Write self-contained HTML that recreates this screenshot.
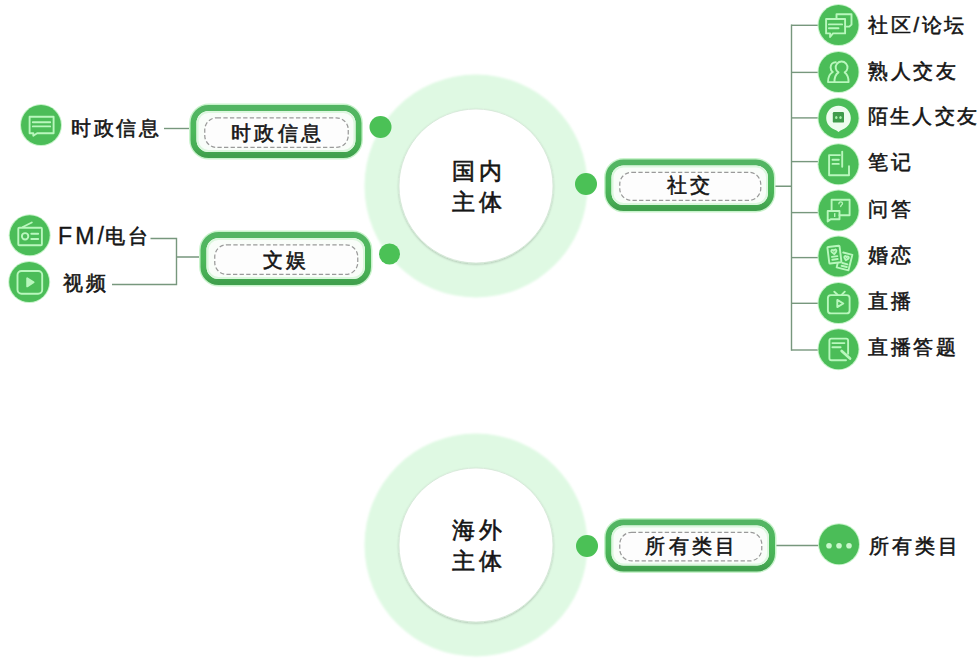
<!DOCTYPE html>
<html><head><meta charset="utf-8">
<style>
html,body{margin:0;padding:0;background:#fff;}
body{width:979px;height:667px;position:relative;overflow:hidden;font-family:"Liberation Sans",sans-serif;color:#151515;}
svg{position:absolute;left:0;top:0;}
.t{position:absolute;white-space:nowrap;font-size:20px;line-height:24px;font-weight:normal;-webkit-text-stroke:0.55px #151515;letter-spacing:2.7px;}
.c{position:absolute;white-space:nowrap;text-align:center;font-weight:normal;-webkit-text-stroke:0.55px #151515;letter-spacing:3.3px;font-size:20px;line-height:24px;}
.big{position:absolute;white-space:nowrap;font-size:23px;line-height:31px;font-weight:normal;-webkit-text-stroke:0.6px #151515;letter-spacing:3.6px;}
</style></head><body>

<svg width="979" height="667" viewBox="0 0 979 667">
<defs><filter id="sh" x="-20%" y="-20%" width="140%" height="140%"><feDropShadow dx="0" dy="1" stdDeviation="1" flood-color="#000" flood-opacity="0.22"/></filter><filter id="blur1"><feGaussianBlur stdDeviation="1.2"/></filter><linearGradient id="pg" x1="0" y1="0" x2="0" y2="1"><stop offset="0" stop-color="#53b563"/><stop offset="0.5" stop-color="#4cb85a"/><stop offset="0.85" stop-color="#47ad54"/><stop offset="1" stop-color="#40a04d"/></linearGradient></defs>
<circle cx="476" cy="186" r="111.5" fill="#dff9e3" filter="url(#blur1)"/>
<circle cx="476" cy="186" r="77" fill="#fff" stroke="#d3e6d5" stroke-width="0.8" filter="url(#sh)"/>
<circle cx="476" cy="545" r="111.5" fill="#dff9e3" filter="url(#blur1)"/>
<circle cx="476" cy="545" r="77" fill="#fff" stroke="#d3e6d5" stroke-width="0.8" filter="url(#sh)"/>
<g fill="#4bc156"><circle cx="380.5" cy="127" r="11"/><circle cx="389.5" cy="254" r="10.5"/><circle cx="586" cy="184" r="11"/><circle cx="587" cy="546" r="11"/></g>
<g stroke="#77977d" stroke-width="1.4" fill="none"><path d="M164 128.5H191"/><path d="M150.5 238.5H176.5V284.5H112M176.5 257H201"/><path d="M774 186.3H791.5M791.5 24.6V350.7"/><path d="M775 545.5H819"/><path d="M791.5 25.3H819"/><path d="M791.5 72.4H819"/><path d="M791.5 117.9H819"/><path d="M791.5 161.6H819"/><path d="M791.5 212.6H819"/><path d="M791.5 257.6H819"/><path d="M791.5 303.3H819"/><path d="M791.5 350.0H819"/></g>
<rect x="190.0" y="104.5" width="172.0" height="54" rx="19" fill="none" stroke="#c9f3cc" stroke-width="2"/>
<rect x="193.5" y="108.0" width="165.0" height="47" rx="15" fill="#f9fdf9" stroke="url(#pg)" stroke-width="6"/>
<rect x="197.5" y="112" width="157.0" height="39" rx="11" fill="none" stroke="#dcf7de" stroke-width="2"/>
<rect x="204.75" y="117.75" width="143.5" height="29.69999999999999" rx="12" fill="#fdfdfd" stroke="#9a9a9a" stroke-width="1.25" stroke-dasharray="4.3 2.3"/>
<rect x="200.0" y="231.5" width="171.5" height="54" rx="19" fill="none" stroke="#c9f3cc" stroke-width="2"/>
<rect x="203.5" y="235.0" width="164.5" height="47" rx="15" fill="#f9fdf9" stroke="url(#pg)" stroke-width="6"/>
<rect x="207.5" y="239" width="156.5" height="39" rx="11" fill="none" stroke="#dcf7de" stroke-width="2"/>
<rect x="214.75" y="244.75" width="143.0" height="29.69999999999999" rx="12" fill="#fdfdfd" stroke="#9a9a9a" stroke-width="1.25" stroke-dasharray="4.3 2.3"/>
<rect x="605.0" y="159.0" width="169.5" height="52.5" rx="19" fill="none" stroke="#c9f3cc" stroke-width="2"/>
<rect x="608.5" y="162.5" width="162.5" height="45.5" rx="15" fill="#f9fdf9" stroke="url(#pg)" stroke-width="6"/>
<rect x="612.5" y="166.5" width="154.5" height="37.5" rx="11" fill="none" stroke="#dcf7de" stroke-width="2"/>
<rect x="619.75" y="172.25" width="141.0" height="28.19999999999999" rx="12" fill="#fdfdfd" stroke="#9a9a9a" stroke-width="1.25" stroke-dasharray="4.3 2.3"/>
<rect x="605.0" y="519.0" width="170.5" height="53.0" rx="19" fill="none" stroke="#c9f3cc" stroke-width="2"/>
<rect x="608.5" y="522.5" width="163.5" height="46.0" rx="15" fill="#f9fdf9" stroke="url(#pg)" stroke-width="6"/>
<rect x="612.5" y="526.5" width="155.5" height="38.0" rx="11" fill="none" stroke="#dcf7de" stroke-width="2"/>
<rect x="619.75" y="532.25" width="142.0" height="28.700000000000045" rx="12" fill="#fdfdfd" stroke="#9a9a9a" stroke-width="1.25" stroke-dasharray="4.3 2.3"/>
<g transform="translate(21,105.1)"><circle cx="20" cy="20" r="21" fill="#c6f3c9"/><circle cx="20" cy="20" r="20" fill="#4bbd58"/><g fill="none" stroke="#b9f7bd" stroke-width="1.9" stroke-linejoin="round" stroke-linecap="round"><path d="M8.6 11.6H32.6V28.1H16.1L12.3 30.6V28.1H8.6Z"/><path d="M11.8 17.2H29.2M11.8 21.3H29.2"/></g></g>
<g transform="translate(9.7,215.3)"><circle cx="20" cy="20" r="21" fill="#c6f3c9"/><circle cx="20" cy="20" r="20" fill="#4bbd58"/><g fill="none" stroke="#b9f7bd" stroke-width="1.9" stroke-linejoin="round" stroke-linecap="round"><rect x="8.6" y="12.4" width="23.6" height="17.6" rx="1"/><path d="M13.1 11.7L22.1 7.2"/><circle cx="15.4" cy="21" r="3.2"/><path d="M21.6 18.4H28.5M21.6 23.7H28.5"/></g></g>
<g transform="translate(9.2,262)"><circle cx="20" cy="20" r="21" fill="#c6f3c9"/><circle cx="20" cy="20" r="20" fill="#4bbd58"/><g fill="none" stroke="#b9f7bd" stroke-width="1.9" stroke-linejoin="round" stroke-linecap="round"><rect x="8.3" y="9" width="24.7" height="22.8" rx="4"/><path d="M18 16.2V24.4L24.4 20.3Z" fill="#b9f7bd"/></g></g>
<g transform="translate(818.5,5.100000000000001)"><circle cx="20" cy="20" r="21" fill="#c6f3c9"/><circle cx="20" cy="20" r="20" fill="#4bbd58"/><g fill="none" stroke="#b9f7bd" stroke-width="1.9" stroke-linejoin="round" stroke-linecap="round"><path d="M18 14V9.1H33V19.5L30.8 21.5H26.6"/><path d="M7.6 13.9H26.6V28.3H14.5L11.6 31.9V28.3H7.6Z"/><path d="M10.4 19.3H23.6M10.4 23.2H20"/></g></g>
<g transform="translate(818.5,52.0)"><circle cx="20" cy="20" r="21" fill="#c6f3c9"/><circle cx="20" cy="20" r="20" fill="#4bbd58"/><g fill="none" stroke="#b9f7bd" stroke-width="1.9" stroke-linejoin="round" stroke-linecap="round"><path d="M15.9 30.1C15.9 25.4 17.4 22.2 20 20.4A5.9 5.9 0 1 1 26.2 20.4C28.7 22.2 30.1 25.4 30.1 30.1Z"/><path d="M17.3 10.2C14.2 10.2 12.1 12.6 12.1 15.4C12.1 17.3 12.9 19 14.3 20C11.3 21.6 9.5 25 9.5 30.1H15.9"/></g></g>
<g transform="translate(818.5,144.2)"><circle cx="20" cy="20" r="21" fill="#c6f3c9"/><circle cx="20" cy="20" r="20" fill="#4bbd58"/><g fill="none" stroke="#b9f7bd" stroke-width="1.9" stroke-linejoin="round" stroke-linecap="round"><path d="M21.5 10.9H10.6V31.1H30.5V22.1"/><path d="M23.7 7.5V22.5"/><path d="M14 15.5H20.3M14 19.7H20.3"/></g></g>
<g transform="translate(818.5,190.4)"><circle cx="20" cy="20" r="21" fill="#c6f3c9"/><circle cx="20" cy="20" r="20" fill="#4bbd58"/><g fill="none" stroke="#b9f7bd" stroke-width="1.9" stroke-linejoin="round" stroke-linecap="round"><path d="M13.1 20.6V9.4H31.1V24.8H21"/><path d="M9.4 20.6H21V28.9H12.2L9.2 31V20.6Z"/><path d="M20.4 13.4C20.4 12 21.3 11.4 22.2 11.4C23.2 11.4 24 12.1 24 13.1C24 14.4 22.2 14.6 22.2 16.2" stroke-width="1.3"/><path d="M16.2 23.2V26" stroke-width="1.4"/></g></g>
<g transform="translate(818.5,236.5)"><circle cx="20" cy="20" r="21" fill="#c6f3c9"/><circle cx="20" cy="20" r="20" fill="#4bbd58"/><g fill="none" stroke="#b9f7bd" stroke-width="1.9" stroke-linejoin="round" stroke-linecap="round"><g transform="rotate(-7 16 18)"><rect x="9.8" y="9.8" width="12.2" height="16.6" rx="0.8"/><path d="M13.2 20H18.6M13.2 22.9H18.6"/><path d="M15.8 17.6L13.6 15.3C12.8 14.3 13.6 13 14.6 13.2C15.2 13.3 15.6 13.7 15.8 14.2C16 13.7 16.4 13.3 17 13.2C18 13 18.8 14.3 18 15.3Z"/></g><g transform="rotate(14 26 25)"><path d="M22.6 16.6H32V32.6H19.8V28.6"/><path d="M24.2 27H29.6M24.2 29.8H29.6"/><path d="M27 23.4L25 21.3C24.2 20.4 25 19.2 26 19.4C26.5 19.5 26.8 19.9 27 20.3C27.2 19.9 27.5 19.5 28 19.4C29 19.2 29.8 20.4 29 21.3Z"/></g></g></g>
<g transform="translate(818.5,283.1)"><circle cx="20" cy="20" r="21" fill="#c6f3c9"/><circle cx="20" cy="20" r="20" fill="#4bbd58"/><g fill="none" stroke="#b9f7bd" stroke-width="1.9" stroke-linejoin="round" stroke-linecap="round"><rect x="9.4" y="12" width="21.7" height="18.3" rx="3"/><path d="M15.8 8.6L19.1 11.6M26.3 8.6L23.3 11.6"/><path d="M18.8 16.8V24L24.8 20.4Z"/></g></g>
<g transform="translate(818.5,329.2)"><circle cx="20" cy="20" r="21" fill="#c6f3c9"/><circle cx="20" cy="20" r="20" fill="#4bbd58"/><g fill="none" stroke="#b9f7bd" stroke-width="1.9" stroke-linejoin="round" stroke-linecap="round"><path d="M29.6 24.5V11.4A2 2 0 0 0 27.6 9.4H12.9A2 2 0 0 0 10.9 11.4V29.1A2 2 0 0 0 12.9 31.1H27.5"/><path d="M13.9 13.9H25.9M13.9 18H22.1"/><path d="M23.2 21.8L31.5 29.3" stroke-width="2.8"/></g></g>
<g transform="translate(818.5,98.2)"><circle cx="20" cy="20" r="21" fill="#c6f3c9"/><circle cx="20" cy="20" r="20" fill="#4bbd58"/><path d="M20 7.6C26.9 7.6 32.3 13 32.3 19.9C32.3 26 28 30.6 22 32.2L20 33.7L18 32.2C12 30.6 7.7 26 7.7 19.9C7.7 13 13.1 7.6 20 7.6Z" fill="#eefcef"/><rect x="14.3" y="13.9" width="11.2" height="10.5" rx="1.2" fill="#3f9a4b"/><ellipse cx="17.8" cy="19.3" rx="1.2" ry="1.6" fill="#a6f5ab"/><ellipse cx="22" cy="19.3" rx="1.2" ry="1.6" fill="#a6f5ab"/></g>
<g transform="translate(819,524.2)"><circle cx="20" cy="20" r="21" fill="#c6f3c9"/><circle cx="20" cy="20" r="20" fill="#4bbd58"/><g fill="none" stroke="#b9f7bd" stroke-width="1.9" stroke-linejoin="round" stroke-linecap="round"><circle cx="10" cy="21.5" r="2.8" fill="#c8f7cb" stroke="none"/><circle cx="20" cy="21.5" r="2.8" fill="#c8f7cb" stroke="none"/><circle cx="30" cy="21.5" r="2.8" fill="#c8f7cb" stroke="none"/></g></g>
</svg>
<div class="c" style="left:177.6px;width:200px;top:120.5px">时政信息</div>
<div class="c" style="left:186.3px;width:200px;top:247.5px">文娱</div>
<div class="c" style="left:589.9px;width:200px;top:173.2px">社交</div>
<div class="c" style="left:591.9px;width:200px;top:533.5px">所有类目</div>
<div class="big" style="left:452px;top:155.5px">国内<br>主体</div>
<div class="big" style="left:452px;top:515px">海外<br>主体</div>
<div class="t" style="left:71px;top:116px">时政信息</div>
<div class="t" style="left:58px;top:223px;letter-spacing:0"><span style="font-weight:normal;-webkit-text-stroke:0.35px #151515;font-size:23px;letter-spacing:3.2px;position:relative;top:0.5px">FM<span style="letter-spacing:0.6px">/</span></span><span style="letter-spacing:3px">电台</span></div>
<div class="t" style="left:63px;top:271px">视频</div>
<div class="t" style="left:868px;top:12.8px">社区/论坛</div>
<div class="t" style="left:868px;top:58.8px">熟人交友</div>
<div class="t" style="left:868px;top:104.3px;letter-spacing:2.2px">陌生人交友</div>
<div class="t" style="left:868px;top:149.9px">笔记</div>
<div class="t" style="left:868px;top:196.9px">问答</div>
<div class="t" style="left:868px;top:242.9px">婚恋</div>
<div class="t" style="left:868px;top:289.0px">直播</div>
<div class="t" style="left:868px;top:335.0px">直播答题</div>
<div class="t" style="left:869px;top:534px;letter-spacing:3px">所有类目</div>
</body></html>
